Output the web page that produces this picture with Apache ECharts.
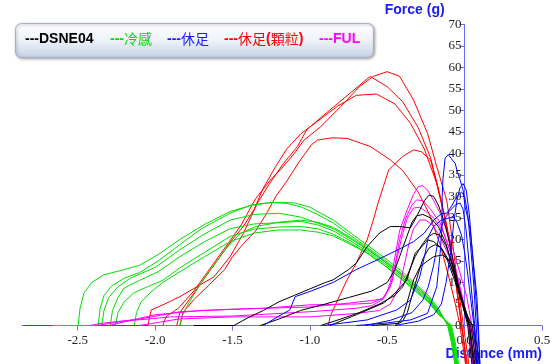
<!DOCTYPE html>
<html>
<head>
<meta charset="utf-8">
<script src="https://cdn.jsdelivr.net/npm/echarts@6/dist/echarts.min.js"></script>
<style>html,body{margin:0;padding:0;background:#fff;}#c{width:554px;height:364px;}</style>
</head>
<body>
<div id="c"></div>
<script>
// ---- data (Distance mm, Force g) ----
const xTicks = [-2.5, -2.0, -1.5, -1.0, -0.5, 0.0, 0.5];
const legendNames = ['DSNE04', '冷感', '休足', '休足(顆粒)', 'FUL'];

const dsne04Curves = [
  [[-1.75,0],[-1.49,0],[-1.4,1.8],[-1.3,3.5],[-1.2,5.5],[-1.1,7],[-1.0,8.5],[-0.9,10],[-0.85,10.6],[-0.75,13],[-0.7,14.5],[-0.63,18.3],[-0.55,21.5],[-0.48,23],[-0.42,23],[-0.35,22.7],[-0.31,25.3],[-0.26,29],[-0.23,30.3],[-0.2,30],[-0.17,28],[-0.13,24],[-0.09,18],[-0.05,11],[-0.02,6],[0.01,1.5],[0.02,0],[0.05,-10]],
  [[-1.32,0],[-1.2,1.5],[-1.06,3.5],[-0.9,5],[-0.75,6.5],[-0.6,8],[-0.5,10],[-0.45,13],[-0.41,17],[-0.37,21],[-0.34,24],[-0.31,25.5],[-0.27,25.8],[-0.22,25],[-0.17,23],[-0.12,19],[-0.08,14],[-0.04,8],[0.0,3],[0.03,0],[0.06,-10]],
  [[-0.93,0],[-0.8,1.5],[-0.68,3],[-0.55,5],[-0.45,7],[-0.4,9],[-0.36,12.5],[-0.32,16],[-0.28,18.5],[-0.24,20.5],[-0.2,21.4],[-0.16,21],[-0.12,18.5],[-0.08,14.5],[-0.04,9],[0.0,4],[0.03,0],[0.07,-10]],
  [[-0.87,0],[-0.7,2.5],[-0.525,5.2],[-0.45,7.5],[-0.373,10.6],[-0.32,16.8],[-0.276,18.3],[-0.24,19.9],[-0.2,19.5],[-0.15,18],[-0.1,15],[-0.06,11],[-0.02,6],[0.02,1.5],[0.04,0],[0.08,-10]],
  [[-0.6,0],[-0.43,0.5],[-0.4,2],[-0.373,5.2],[-0.33,10.6],[-0.287,13.7],[-0.24,15],[-0.2,16],[-0.14,16.4],[-0.1,15],[-0.06,11],[-0.02,6.5],[0.02,2],[0.05,0],[0.09,-10]],
  [[-0.45,0],[-0.4,1],[-0.37,3],[-0.34,7],[-0.3,12],[-0.27,15.5],[-0.23,18],[-0.19,18.8],[-0.15,18],[-0.11,15],[-0.07,11],[-0.03,7],[0.01,3],[0.04,0.5],[0.06,0],[0.1,-10]]
];

const coolCurves = [
  [[-2.667,0],[-2.497,0],[-2.485,4],[-2.46,7.5],[-2.41,10],[-2.33,11.8],[-2.22,12.8],[-2.1,14],[-1.98,16.5],[-1.84,20],[-1.68,23.5],[-1.515,26.5],[-1.37,28],[-1.235,28.6],[-1.1,28.5],[-1.0,27.5],[-0.848,24.5],[-0.74,21.6],[-0.63,18.7],[-0.52,15.8],[-0.417,12.9],[-0.32,9.8],[-0.236,7.1],[-0.17,4],[-0.11,0],[-0.085,-4],[-0.06,-10]],
  [[-2.667,0],[-2.368,0],[-2.355,4],[-2.33,7],[-2.28,9.2],[-2.2,11],[-2.1,12.3],[-1.98,15],[-1.84,18.8],[-1.7,22.5],[-1.515,26.1],[-1.38,28],[-1.25,28.6],[-1.15,28.4],[-1.06,27.6],[-0.95,25.8],[-0.848,23.8],[-0.74,21],[-0.63,18.2],[-0.52,15.3],[-0.417,12.4],[-0.32,9.4],[-0.236,6.7],[-0.17,3.6],[-0.105,0],[-0.08,-4],[-0.055,-10]],
  [[-2.345,0],[-2.33,3.5],[-2.3,6.5],[-2.24,9],[-2.16,11],[-2.0,13.5],[-1.84,17.6],[-1.68,21.3],[-1.515,24.5],[-1.36,25.8],[-1.2,26.1],[-1.06,25.2],[-0.95,23.8],[-0.848,22.5],[-0.74,20.2],[-0.63,17.7],[-0.52,14.9],[-0.417,12],[-0.32,9],[-0.236,6.3],[-0.17,3.3],[-0.1,0],[-0.075,-4],[-0.05,-10]],
  [[-2.29,0],[-2.275,3.5],[-2.24,6.5],[-2.2,8.7],[-2.1,10.5],[-1.98,12.5],[-1.84,16],[-1.68,19.5],[-1.515,22.5],[-1.36,23.6],[-1.2,23.9],[-1.06,24.2],[-0.95,23.4],[-0.848,22],[-0.74,19.7],[-0.63,17.3],[-0.52,14.5],[-0.417,11.6],[-0.32,8.6],[-0.236,6],[-0.17,3],[-0.095,0],[-0.07,-4],[-0.045,-10]],
  [[-2.255,0],[-2.24,3],[-2.2,5.5],[-2.14,7.5],[-2.05,9],[-1.95,10.5],[-1.84,13.4],[-1.68,17],[-1.515,20.7],[-1.36,22.4],[-1.2,22.9],[-1.06,23],[-0.95,22.5],[-0.848,21.2],[-0.74,19.2],[-0.63,16.9],[-0.52,14.1],[-0.417,11.2],[-0.32,8.3],[-0.236,5.7],[-0.17,2.8],[-0.09,0],[-0.065,-4],[-0.04,-10]],
  [[-2.135,0],[-2.12,3],[-2.09,5.5],[-2.02,8],[-1.95,10],[-1.84,12.5],[-1.68,16],[-1.515,19.5],[-1.36,21.5],[-1.2,22.2],[-1.06,22.2],[-0.95,21.7],[-0.848,20.8],[-0.74,18.9],[-0.63,16.8],[-0.52,14],[-0.417,11],[-0.32,8],[-0.236,5.5],[-0.17,2.6],[-0.085,0],[-0.06,-4],[-0.035,-10]],
  [[-1.84,0],[-1.82,2.5],[-1.77,6],[-1.7,10],[-1.62,14],[-1.55,17.5],[-1.45,21.4],[-1.35,23],[-1.2,24],[-1.06,24.5],[-0.95,24],[-0.848,22.8],[-0.74,20.5],[-0.63,17.9],[-0.52,15],[-0.417,12.1],[-0.32,9.1],[-0.236,6.4],[-0.17,3.4],[-0.1,0],[-0.075,-4],[-0.05,-10]]
];

const restCurves = [
  [[-0.7,0],[-0.5,0.6],[-0.35,1.3],[-0.24,2.8],[-0.18,9],[-0.16,16],[-0.147,22.2],[-0.145,30],[-0.14,34],[-0.126,38.9],[-0.105,39.7],[-0.08,38.5],[-0.061,37.7],[-0.045,35.5],[-0.029,33.8],[-0.01,31.5],[0.003,27.6],[0.02,25],[0.036,22.2],[0.057,14.5],[0.079,6.7],[0.089,0],[0.1,-10]],
  [[-1.3,0],[-1.21,2],[-1.13,3.6],[-1.095,6.7],[-1.0,7.9],[-0.85,10],[-0.7,13],[-0.55,15.5],[-0.42,17.8],[-0.33,19.5],[-0.26,21.5],[-0.2,24.5],[-0.15,26],[-0.115,26.1],[-0.08,28],[-0.05,30],[-0.02,31],[0.0,30],[0.02,26],[0.04,18],[0.06,9],[0.075,0],[0.09,-10]],
  [[-0.91,0],[-0.63,1.3],[-0.44,3.6],[-0.35,5.9],[-0.29,11.3],[-0.255,16.8],[-0.234,20.7],[-0.2,23],[-0.15,24.5],[-0.1,25],[-0.074,25.3],[-0.05,24],[-0.02,21],[0.0,17],[0.02,12],[0.04,6],[0.06,0],[0.08,-10]],
  [[-0.64,0],[-0.48,1.2],[-0.34,3],[-0.27,5.9],[-0.235,9],[-0.2,14],[-0.17,20],[-0.14,24],[-0.1,26.5],[-0.06,28],[-0.03,28.5],[-0.01,27],[0.01,22],[0.03,14],[0.05,6],[0.065,0],[0.08,-10]],
  [[-0.45,0],[-0.3,1],[-0.2,2.5],[-0.15,5],[-0.12,10],[-0.09,17],[-0.07,24],[-0.05,29],[-0.03,32],[-0.01,33],[0.01,31.5],[0.03,26],[0.05,17],[0.07,8],[0.085,0],[0.1,-10]]
];

const granuleCurves = [
  [[-1.95,0],[-1.93,2],[-1.85,4],[-1.75,8],[-1.65,13],[-1.55,18],[-1.45,23],[-1.35,29.5],[-1.25,34],[-1.19,36.2],[-1.1,40],[-1.04,43],[-0.93,46.2],[-0.8,50.9],[-0.68,55.5],[-0.59,57.9],[-0.5,59],[-0.42,57.9],[-0.33,52.4],[-0.24,44.7],[-0.18,36.9],[-0.115,29],[-0.08,20],[-0.05,11],[-0.02,3],[0.0,-2],[0.02,-7],[0.03,-10]],
  [[-2.85,0],[-2.047,0],[-2.025,3.6],[-1.95,4.8],[-1.84,6.7],[-1.73,9],[-1.62,11.3],[-1.515,16],[-1.43,21.4],[-1.34,28.4],[-1.26,33],[-1.17,37.7],[-1.08,41.6],[-1.02,45.5],[-0.91,48.9],[-0.74,54],[-0.61,57.9],[-0.5,55.5],[-0.4,52],[-0.3,46],[-0.22,39],[-0.15,29],[-0.1,20],[-0.06,11],[-0.03,3],[-0.01,-2],[0.01,-10]],
  [[-1.86,0],[-1.84,3],[-1.78,6],[-1.7,10],[-1.6,15],[-1.5,20],[-1.43,23],[-1.36,27],[-1.3,32],[-1.22,37],[-1.15,41],[-1.06,44.5],[-0.95,47.5],[-0.82,51],[-0.7,53.5],[-0.57,53.8],[-0.45,51.5],[-0.35,47],[-0.26,41],[-0.18,33],[-0.12,24],[-0.07,14],[-0.04,6],[-0.02,0],[0.0,-5],[0.02,-10]],
  [[-1.84,0],[-1.82,3],[-1.75,6],[-1.65,9.5],[-1.55,13],[-1.5,16],[-1.43,19],[-1.35,22],[-1.28,26],[-1.22,30],[-1.15,33.5],[-1.07,38],[-0.99,42],[-0.95,43.1],[-0.86,43.6],[-0.76,43.5],[-0.61,41.6],[-0.48,38.5],[-0.4,36],[-0.3,31],[-0.23,26],[-0.16,19],[-0.1,11],[-0.06,5],[-0.03,0],[-0.01,-5],[0.01,-10]],
  [[-0.88,0],[-0.87,2],[-0.83,5.2],[-0.76,10.6],[-0.7,14.5],[-0.63,19.9],[-0.59,24.5],[-0.56,28.4],[-0.525,32.3],[-0.49,36.2],[-0.4,39.3],[-0.33,40.8],[-0.28,40.4],[-0.22,38.5],[-0.18,33],[-0.11,22.2],[-0.06,10.6],[-0.02,0],[0.0,-5],[0.02,-10]]
];

const fulCurves = [
  [[-2.42,0],[-2.35,0.5],[-2.1,1.5],[-1.84,3.2],[-1.5,3.8],[-1.0,4.3],[-0.8,5],[-0.68,5.5],[-0.6,5.8],[-0.53,6.2],[-0.5,8],[-0.48,10],[-0.45,16],[-0.42,22],[-0.37,27],[-0.33,30.5],[-0.3,32.3],[-0.27,32.5],[-0.24,31.5],[-0.2,29],[-0.158,26.1],[-0.094,19.9],[-0.029,12.1],[0.014,6.7],[0.047,0],[0.075,-10]],
  [[-2.38,0],[-2.2,1],[-1.9,2],[-1.5,2.2],[-1.0,3.2],[-0.7,4],[-0.6,4.6],[-0.53,6],[-0.48,9],[-0.45,14],[-0.42,20],[-0.38,25],[-0.34,28],[-0.31,29.2],[-0.27,29],[-0.22,27],[-0.16,24],[-0.1,18],[-0.05,12],[-0.01,6],[0.02,1.5],[0.035,0],[0.065,-10]],
  [[-2.3,0],[-2.0,2.5],[-1.7,3.5],[-1.3,4],[-1.0,4.8],[-0.7,5],[-0.6,5.2],[-0.52,6.5],[-0.47,10],[-0.44,15],[-0.41,20],[-0.37,25],[-0.33,27.3],[-0.29,27.5],[-0.25,26.5],[-0.2,25],[-0.14,22],[-0.09,17],[-0.04,10],[0.0,4],[0.025,0],[0.055,-10]],
  [[-2.1,0],[-1.85,1.5],[-1.5,2],[-1.0,2],[-0.7,2.8],[-0.55,3.5],[-0.48,5],[-0.42,9],[-0.39,14],[-0.36,19],[-0.33,22.5],[-0.29,24.5],[-0.25,24.5],[-0.2,23],[-0.15,20],[-0.1,16],[-0.05,11],[-0.01,5],[0.02,1],[0.03,0],[0.06,-10]]
];

// ---- chart ----
const AXIS_BLUE = '#6b6bff';
const X_MIN = -2.86, X_MAX = 0.5;
const GRID_LEFT = 22, GRID_RIGHT = 12;
const groups = [
  {curves: granuleCurves, color: '#ff0000', name: legendNames[3]},
  {curves: coolCurves, color: '#00dd00', name: legendNames[1]},
  {curves: fulCurves, color: '#ff00ff', name: legendNames[4]},
  {curves: dsne04Curves, color: '#000000', name: legendNames[0]},
  {curves: restCurves, color: '#0000ff', name: legendNames[2]}
];
const series = [];
groups.forEach(g => g.curves.forEach((c, i) => series.push({
  type: 'line', name: g.name + '_' + (i + 1), data: c,
  symbol: 'none', showSymbol: false, clip: false, silent: true,
  lineStyle: {color: g.color, width: 1}, itemStyle: {color: g.color}
})));

const el = document.getElementById('c');
const chart = echarts.init(el, null, {renderer: 'canvas'});
// place the y axis at x = 0 through an offset (axis position, not data)
const plotW = 554 - GRID_LEFT - GRID_RIGHT;
const yAxisOffset = -plotW * (0 - X_MIN) / (X_MAX - X_MIN);

const legendColors = ['#000000', '#00dd00', '#1a1aff', '#ff0000', '#ff00ff'];
const legendX = [25, 110, 167, 224, 319];
const legendTexts = legendNames.map((n, i) => {
  const parts = n.split(/([^\u0000-\u00ff]+)/).filter(s => s.length);
  const rich = parts.map(p => /[^\u0000-\u00ff]/.test(p) ? '{c|' + p + '}' : '{b|' + p + '}').join('');
  return {
    type: 'text', left: legendX[i], top: 32, z: 101,
    style: {
      text: '{b|---}' + rich,
      rich: {
        b: {fontFamily: 'Liberation Sans', fontWeight: 'bold', fontSize: 14, fill: legendColors[i], lineHeight: 16},
        c: {fontFamily: 'Noto Sans CJK TC', fontWeight: 'normal', fontSize: 14, fill: legendColors[i], lineHeight: 16}
      }
    }
  };
});

chart.setOption({
  animation: false,
  backgroundColor: '#ffffff',
  grid: {left: GRID_LEFT, right: GRID_RIGHT, top: 24.3, bottom: 38.5, containLabel: false},
  xAxis: {
    type: 'value', min: X_MIN, max: X_MAX,
    name: 'Distance (mm)', nameLocation: 'end', nameGap: 0,
    nameTextStyle: {color: '#1a1aff', fontWeight: 'bold', fontSize: 14, fontFamily: 'Liberation Sans', align: 'right', verticalAlign: 'top', padding: [22, 0, 0, 0]},
    axisLine: {show: true, onZero: false, lineStyle: {color: AXIS_BLUE, width: 1}},
    axisTick: {show: true, length: 5, customValues: xTicks, lineStyle: {color: AXIS_BLUE}},
    axisLabel: {customValues: xTicks, formatter: v => v.toFixed(1), fontFamily: 'Liberation Serif', fontSize: 13, color: '#222', margin: 9},
    splitLine: {show: false}
  },
  yAxis: {
    type: 'value', min: 0, max: 70, interval: 5, position: 'left', offset: yAxisOffset,
    name: 'Force (g)', nameLocation: 'end', nameGap: 7,
    nameTextStyle: {color: '#1a1aff', fontWeight: 'bold', fontSize: 14, fontFamily: 'Liberation Sans', align: 'right', padding: [0, 20, 0, 0]},
    axisLine: {show: true, onZero: false, lineStyle: {color: AXIS_BLUE, width: 1}},
    axisTick: {show: true, length: 5, lineStyle: {color: AXIS_BLUE}},
    axisLabel: {fontFamily: 'Liberation Serif', fontSize: 13, color: '#222', margin: 3},
    splitLine: {show: false}
  },
  graphic: [
    {
      type: 'rect', left: 15, top: 23, z: 100,
      shape: {width: 358, height: 34, r: 6},
      style: {
        fill: new echarts.graphic.LinearGradient(0, 0, 0, 1, [{offset: 0, color: '#ffffff'}, {offset: 0.5, color: '#eef2f8'}, {offset: 1, color: '#c3d1e4'}]),
        stroke: '#9fb1cc', lineWidth: 1,
        shadowBlur: 3, shadowColor: 'rgba(0,0,0,0.35)', shadowOffsetX: 1, shadowOffsetY: 1
      }
    }
  ].concat(legendTexts),
  series: series
});
</script>
</body>
</html>
